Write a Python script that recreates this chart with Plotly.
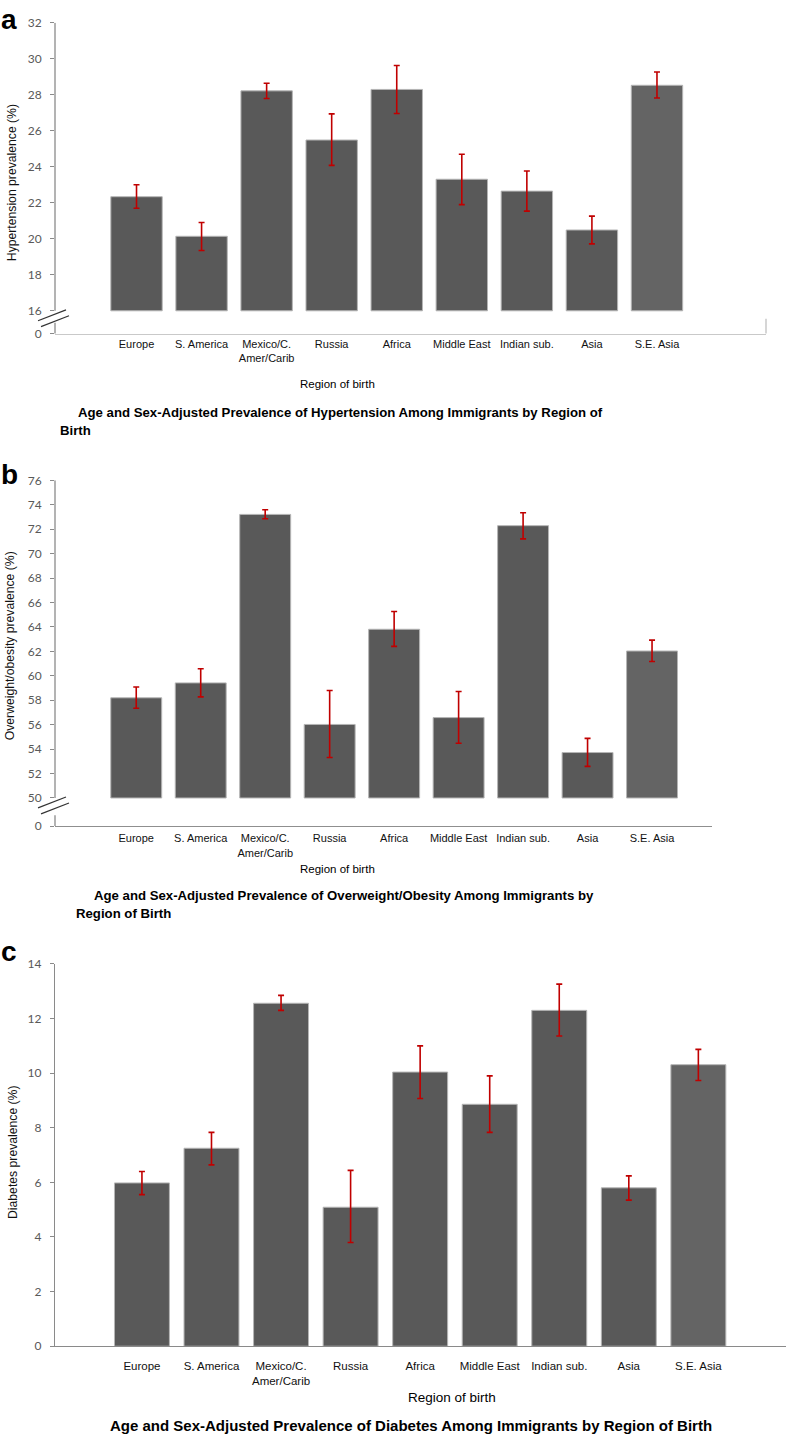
import plotly.graph_objects as go

W, H = 786, 1440

regions = ["Europe", "S. America", "Mexico/C.<br>Amer/Carib", "Russia", "Africa",
           "Middle East", "Indian sub.", "Asia", "S.E. Asia"]

# hypertension (%), with upper/lower error lengths
htn = [22.34, 20.14, 28.22, 25.49, 28.30, 23.31, 22.65, 20.49, 28.53]
htn_up = [0.66, 0.77, 0.42, 1.45, 1.33, 1.39, 1.12, 0.77, 0.74]
htn_dn = [0.64, 0.79, 0.42, 1.41, 1.34, 1.41, 1.11, 0.77, 0.71]

# overweight/obesity (%)
obs = [58.20, 59.42, 73.21, 56.02, 63.81, 56.58, 72.29, 53.72, 62.03]
obs_up = [0.89, 1.16, 0.38, 2.78, 1.46, 2.13, 1.06, 1.16, 0.89]
obs_dn = [0.86, 1.14, 0.35, 2.70, 1.40, 2.10, 1.08, 1.13, 0.86]

# diabetes (%)
dia = [5.98, 7.25, 12.56, 5.09, 10.04, 8.86, 12.30, 5.80, 10.31]
dia_up = [0.42, 0.58, 0.29, 1.35, 0.96, 1.04, 0.96, 0.44, 0.56]
dia_dn = [0.43, 0.61, 0.26, 1.29, 0.97, 1.03, 0.94, 0.45, 0.58]

yticks_a = [16, 18, 20, 22, 24, 26, 28, 30, 32]
yticks_b = [50, 52, 54, 56, 58, 60, 62, 64, 66, 68, 70, 72, 74, 76]
yticks_c = [0, 2, 4, 6, 8, 10, 12, 14]

bar_colors = ["#595959"] * 8 + ["#646464"]


def xp(px):
    return px / W


def yp(py):
    return 1 - py / H


panels = [
    dict(vals=htn, up=htn_up, dn=htn_dn, base=16, ticks=yticks_a, zero=14.735,
         xpx=(55, 766), ypx=(15, 329), xr=[-1.253, 9.676], axcol="#c9c9c9",
         xstand=0, xsize=11,
         ytitle="Hypertension prevalence (%)", ytx=(12, 177)),
    dict(vals=obs, up=obs_up, dn=obs_dn, base=50, ticks=yticks_b, zero=47.7,
         xpx=(55, 712), ypx=(477.3, 826.7), xr=[-1.26, 8.93], axcol="#8f8f8f",
         xstand=2, xsize=11,
         ytitle="Overweight/obesity prevalence (%)", ytx=(10, 645)),
    dict(vals=dia, up=dia_up, dn=dia_dn, base=0, ticks=yticks_c, zero=None,
         xpx=(55, 786), ypx=(966, 1352.3), xr=[-1.25, 9.26], axcol="#8a8a8a",
         xstand=9, xsize=11.5,
         ytitle="Diabetes prevalence (%)", ytx=(13, 1157)),
]

fig = go.Figure()
layout = dict(width=W, height=H, margin=dict(l=0, r=0, t=0, b=0),
              paper_bgcolor="white", plot_bgcolor="rgba(0,0,0,0)",
              showlegend=False, bargap=0.2)
shapes = []
annotations = []

for i, p in enumerate(panels):
    n = i + 1
    xa = "x" if n == 1 else f"x{n}"
    ya = "y" if n == 1 else f"y{n}"
    fig.add_trace(go.Bar(
        x=regions, y=[v - p["base"] for v in p["vals"]], base=p["base"],
        xaxis=xa, yaxis=ya, width=0.79,
        marker=dict(color=bar_colors, line=dict(color="#b5b5b5", width=1)),
        error_y=dict(type="data", symmetric=False, array=p["up"], arrayminus=p["dn"],
                     color="#c00000", thickness=1.6, width=3),
    ))
    lo = p["zero"] if p["zero"] is not None else p["ticks"][0]
    tickvals = list(p["ticks"])
    ticktext = [str(t) for t in p["ticks"]]
    if p["zero"] is not None:
        tickvals = [p["zero"]] + tickvals
        ticktext = ["0"] + ticktext
    xdom = [xp(p["xpx"][0]), xp(p["xpx"][1])]
    ydom = [yp(p["ypx"][1]), yp(p["ypx"][0])]
    layout["xaxis" if n == 1 else f"xaxis{n}"] = dict(
        domain=xdom, anchor=ya, range=p["xr"], showgrid=False, zeroline=False,
        showline=True, linecolor=p["axcol"], linewidth=1.3, ticks="",
        tickfont=dict(family="Liberation Sans, Arial", size=p["xsize"], color="#111111"),
        ticklabelstandoff=p["xstand"], fixedrange=True)
    layout["yaxis" if n == 1 else f"yaxis{n}"] = dict(
        domain=ydom, anchor=xa, range=[lo, p["ticks"][-1]], showgrid=False,
        zeroline=False, showline=(p["zero"] is None), linecolor="#8a8a8a", linewidth=1.3,
        tickvals=tickvals, ticktext=ticktext, ticks="outside", ticklen=4,
        tickcolor="#8a8a8a", tickwidth=1.3, ticklabelstandoff=6,
        tickfont=dict(family="Lato, Open Sans", size=12, color="#595959"),
        fixedrange=True)
    # inner half of the cross ticks
    layout[f"yaxis{n + 3}"] = dict(
        domain=ydom, anchor=xa, overlaying=ya, range=[lo, p["ticks"][-1]],
        showgrid=False, zeroline=False, showline=False, tickvals=tickvals,
        ticks="inside", ticklen=4, tickcolor="#8a8a8a", tickwidth=1.3,
        showticklabels=False, fixedrange=True)

    if p["zero"] is not None:
        # broken y-axis: upper segment, short lower segment, break slashes
        x0 = xp(p["xpx"][0])
        shapes.append(dict(type="line", xref="paper", yref=ya, x0=x0, x1=x0,
                           y0=p["base"], y1=p["ticks"][-1],
                           line=dict(color="#8a8a8a", width=1.3)))
        bot = p["ypx"][1]
        shapes.append(dict(type="line", xref="paper", yref="paper", x0=x0, x1=x0,
                           y0=yp(bot), y1=yp(bot - 11),
                           line=dict(color="#8a8a8a", width=1.3)))
        base_px = bot - (p["base"] - p["zero"]) / (p["ticks"][-1] - p["zero"]) * (p["ypx"][1] - p["ypx"][0])
        for dx, dy in [(0, 0), (3, 6)]:
            shapes.append(dict(type="line", xref="paper", yref="paper",
                               x0=xp(38 + dx), y0=yp(base_px + 10 + dy),
                               x1=xp(66 + dx), y1=yp(base_px - 1 + dy),
                               line=dict(color="#333333", width=1.2)))

    annotations.append(dict(text=p["ytitle"], xref="paper", yref="paper",
                            x=xp(p["ytx"][0]), y=yp(p["ytx"][1]), textangle=-90,
                            showarrow=False, xanchor="center", yanchor="middle",
                            font=dict(family="Liberation Sans, Arial", size=12.2, color="#111111")))

# right-end tick of panel a x axis
shapes.append(dict(type="line", xref="paper", yref="paper", x0=xp(766), x1=xp(766),
                   y0=yp(329), y1=yp(314), line=dict(color="#c9c9c9", width=1.5)))

txt = [
    ("a", 9, 12, 28, True, "center"),
    ("b", 9, 471, 28, True, "center"),
    ("c", 9, 953, 28, True, "center"),
    ("Region of birth", 337, 380, 11.5, False, "center"),
    ("Region of birth", 337, 870, 11.5, False, "center"),
    ("Region of birth", 452, 1404, 13.5, False, "center"),
    ("Age and Sex-Adjusted Prevalence of Hypertension Among Immigrants by Region of", 76, 409, 13.2, True, "left"),
    ("Birth", 58, 427, 13.2, True, "left"),
    ("Age and Sex-Adjusted Prevalence of Overweight/Obesity Among Immigrants by", 92, 897, 13.2, True, "left"),
    ("Region of Birth", 74, 915, 13.2, True, "left"),
    ("Age and Sex-Adjusted Prevalence of Diabetes Among Immigrants by Region of Birth", 411, 1432, 15, True, "center"),
]
for t, x, y, size, bold, anchor in txt:
    annotations.append(dict(text=f"<b>{t}</b>" if bold else t, xref="paper", yref="paper",
                            x=xp(x), y=yp(y), showarrow=False, xanchor=anchor, yanchor="middle",
                            font=dict(family="Liberation Sans, Arial", size=size, color="#000000")))

layout["shapes"] = shapes
layout["annotations"] = annotations
fig.update_layout(**layout)
# drop the browser's default 8px body margin so the figure sits at the page origin
fig.write_html("out.html", config={"displayModeBar": False},
               post_script="document.body.style.margin='0';")
